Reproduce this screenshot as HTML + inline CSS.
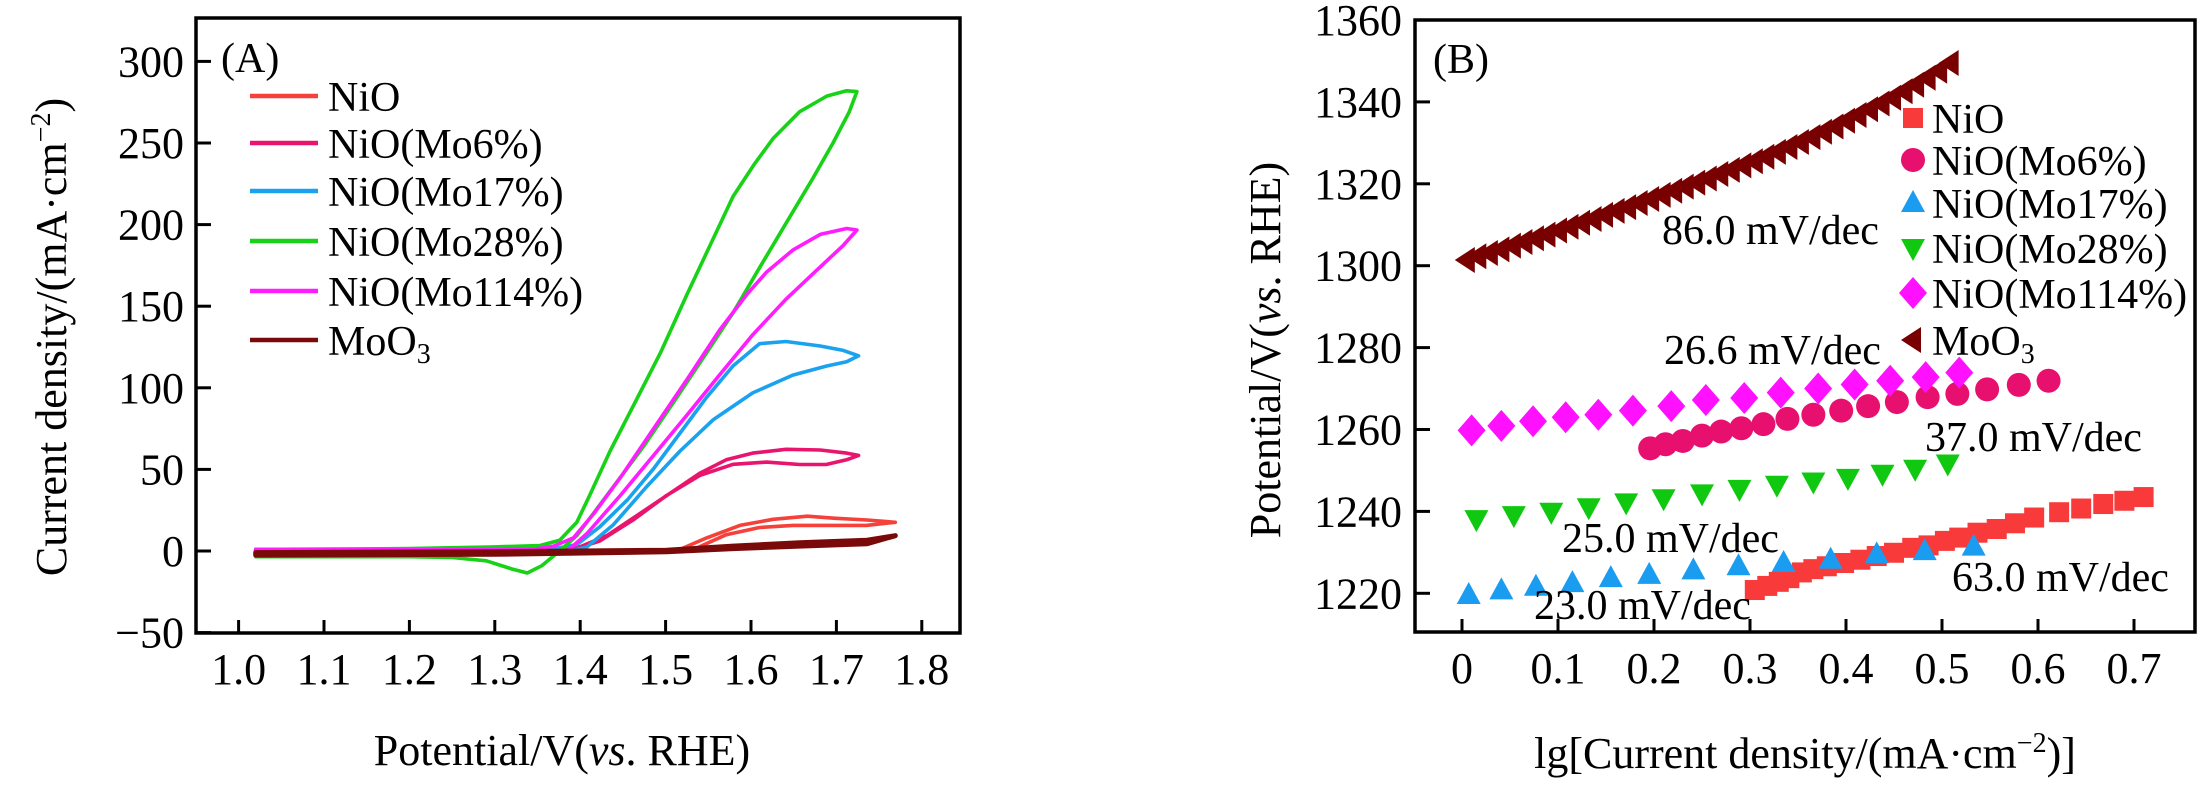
<!DOCTYPE html>
<html><head><meta charset="utf-8"><style>
html,body{margin:0;padding:0;background:#fff;}
svg{display:block;font-family:"Liberation Serif","DejaVu Serif",serif;}
svg text{font-family:"Liberation Serif","DejaVu Serif",serif;}
</style></head><body>
<svg id="fig" width="2205" height="787" viewBox="0 0 2205 787" xmlns="http://www.w3.org/2000/svg" font-family="Liberation Serif, serif">
<rect x="0" y="0" width="2205" height="787" fill="#fff"/>
<g id="left"></g>
<g id="right"></g>
</svg>
<script>
// ---------- Left chart data (CV loops) ----------
const cvXTicks = [1.0,1.1,1.2,1.3,1.4,1.5,1.6,1.7,1.8];
const cvXTickLabels = ["1.0","1.1","1.2","1.3","1.4","1.5","1.6","1.7","1.8"];
const cvYTicks = [300,250,200,150,100,50,0,-50];
const cvYTickLabels = ["300","250","200","150","100","50","0","\u221250"];
const cvNames = ["NiO","NiO(Mo6%)","NiO(Mo17%)","NiO(Mo28%)","NiO(Mo114%)","MoO3"];
const cvColors = ["#f6403a","#e8146e","#1ba2ee","#17d217","#ff1cff","#7a0a0a"];

const nioV = [1.02,1.3,1.45,1.486,1.517,1.548,1.587,1.626,1.666,1.697,1.736,1.769,1.735,1.696,1.649,1.61,1.571,1.533,1.5,1.45,1.3,1.02];
const nioJ = [-1,-0.5,0,-0.5,1,8,15.7,19.4,21.3,20.1,19,17.6,15.7,15.7,15.7,14.4,10,1,0,-0.5,-1,-1.5];

const mo6V = [1.02,1.3,1.38,1.423,1.462,1.501,1.54,1.579,1.618,1.657,1.688,1.712,1.726,1.712,1.681,1.641,1.602,1.571,1.54,1.509,1.47,1.431,1.4,1.365,1.2,1.02];
const mo6J = [-2,-2,-1,6.1,19,34,46.3,53.1,54.5,53,53,55.9,58.6,60,61.9,62.3,60,55.9,47.7,36.7,23,9.4,2.6,0.5,0.5,0.5];

const mo17V = [1.02,1.3,1.38,1.408,1.439,1.478,1.517,1.556,1.602,1.649,1.688,1.712,1.726,1.708,1.681,1.641,1.61,1.579,1.548,1.517,1.486,1.455,1.423,1.396,1.365,1.2,1.02];
const mo17J = [-2,-2,-1,2.5,16.2,39.5,61.3,80.5,96.9,107.8,113.3,116,119.6,122.9,125.6,128.4,127,113.4,94.2,72.3,50.4,31.2,14.8,3.9,1,1,1];

const mo28V = [1.02,1.2,1.25,1.29,1.32,1.338,1.355,1.372,1.396,1.435,1.474,1.513,1.548,1.579,1.61,1.641,1.672,1.696,1.715,1.724,1.712,1.689,1.657,1.626,1.603,1.579,1.552,1.525,1.494,1.462,1.435,1.411,1.396,1.376,1.353,1.3,1.2,1.02];
const mo28J = [-3.5,-3.5,-4,-6,-11,-13.5,-9,-1.6,9.4,36.7,64,94,121.5,146,173.5,200.8,228,250,269,281.5,282,278.8,269.2,252.8,236.4,217.3,187.2,157.1,121.5,88.7,61.3,34,17.6,6.6,3.4,2.5,1.5,1];

const mo114V = [1.02,1.3,1.384,1.408,1.447,1.486,1.525,1.563,1.602,1.641,1.68,1.708,1.724,1.712,1.681,1.649,1.618,1.595,1.563,1.525,1.486,1.447,1.416,1.392,1.369,1.345,1.2,1.02];
const mo114J = [-2,-2,-0.5,10.7,34,58.6,83.2,107.8,132.5,154.3,173.5,187.2,196.7,197.6,194,184.4,170.8,157.1,135.2,105,75,44.9,23,8,3,1,1,1];

const moo3V = [1.02,1.3,1.501,1.579,1.657,1.736,1.769,1.736,1.657,1.579,1.501,1.3,1.02];
const moo3J = [-2.5,-2,-0.5,1.5,3,4.5,9.4,6.6,5,3,0.5,-0.5,-1];

const cvV = [nioV,mo6V,mo17V,mo28V,mo114V,moo3V];
const cvJ = [nioJ,mo6J,mo17J,mo28J,mo114J,moo3J];

// ---------- Right chart data (Tafel) ----------
const tfXTicks = [0,0.1,0.2,0.3,0.4,0.5,0.6,0.7];
const tfXTickLabels = ["0","0.1","0.2","0.3","0.4","0.5","0.6","0.7"];
const tfYTicks = [1220,1240,1260,1280,1300,1320,1340,1360];
const tfYTickLabels = ["1220","1240","1260","1280","1300","1320","1340","1360"];
const tfNames = ["NiO","NiO(Mo6%)","NiO(Mo17%)","NiO(Mo28%)","NiO(Mo114%)","MoO3"];
const tfColors = ["#f83a3a","#e8106e","#1a9cf0","#10c810","#ff10ff","#780000"];
const tfShapes = ["square","circle","up","down","diamond","left"];

const nioLg = [0.305,0.318,0.33,0.341,0.354,0.366,0.38,0.398,0.415,0.432,0.45,0.469,0.486,0.503,0.518,0.537,0.557,0.576,0.596,0.622,0.645,0.668,0.69,0.71];
const nioP = [1220.8,1221.8,1222.8,1223.7,1225.1,1225.9,1226.6,1227.4,1228.2,1229.1,1229.9,1231.1,1231.7,1232.8,1233.6,1234.8,1235.7,1237.1,1238.5,1239.8,1240.7,1241.8,1242.6,1243.5];
const mo6Lg = [0.196,0.212,0.23,0.25,0.27,0.291,0.314,0.339,0.366,0.395,0.423,0.453,0.485,0.516,0.547,0.58,0.611];
const mo6P = [1255.4,1256.4,1257.2,1258.5,1259.5,1260.3,1261.3,1262.6,1263.6,1264.6,1265.7,1266.7,1267.9,1268.7,1269.8,1270.9,1271.9];
const mo17Lg = [0.007,0.041,0.077,0.115,0.155,0.195,0.241,0.288,0.335,0.384,0.432,0.482,0.533];
const mo17P = [1219.6,1220.7,1221.6,1222.5,1223.7,1224.5,1225.6,1226.6,1227.4,1228.2,1229.5,1230.3,1231.4];
const mo28Lg = [0.015,0.054,0.093,0.132,0.171,0.21,0.25,0.289,0.328,0.366,0.402,0.438,0.472,0.506];
const mo28P = [1238.1,1239.1,1239.9,1241,1242.2,1243.2,1244.4,1245.5,1246.5,1247.3,1248.2,1249.2,1250.4,1251.7];
const mo114Lg = [0.01,0.041,0.074,0.108,0.142,0.178,0.218,0.254,0.294,0.332,0.371,0.409,0.446,0.483,0.518];
const mo114P = [1259.8,1260.9,1262,1263,1263.6,1264.6,1265.7,1267.2,1267.7,1269,1270,1271,1271.9,1272.8,1273.9];
const moo3Lg = [0.005,0.017,0.029,0.041,0.053,0.065,0.077,0.089,0.101,0.113,0.125,0.137,0.149,0.161,0.173,0.185,0.197,0.209,0.221,0.233,0.245,0.257,0.269,0.281,0.293,0.305,0.317,0.329,0.341,0.353,0.365,0.377,0.389,0.401,0.413,0.425,0.437,0.449,0.461,0.473,0.485,0.497,0.509];
const moo3P = [1301.4,1302.3,1303.1,1304.0,1304.9,1305.8,1306.7,1307.6,1308.6,1309.5,1310.5,1311.4,1312.4,1313.4,1314.3,1315.3,1316.3,1317.3,1318.3,1319.3,1320.3,1321.3,1322.4,1323.4,1324.5,1325.5,1326.6,1327.8,1329.0,1330.2,1331.4,1332.7,1334.0,1335.4,1336.8,1338.2,1339.6,1341.0,1342.6,1344.2,1345.9,1347.6,1349.5];
const tfLg = [nioLg,mo6Lg,mo17Lg,mo28Lg,mo114Lg,moo3Lg];
const tfP = [nioP,mo6P,mo17P,mo28P,mo114P,moo3P];

const slopeTexts = ["86.0 mV/dec","26.6 mV/dec","37.0 mV/dec","25.0 mV/dec","23.0 mV/dec","63.0 mV/dec"];

// ---------- helpers ----------
const NS = "http://www.w3.org/2000/svg";
const SERIF = '"Liberation Serif", "DejaVu Serif", serif';
function mk(tag, attrs, parent){
  const e = document.createElementNS(NS, tag);
  for (const k in attrs) e.setAttribute(k, attrs[k]);
  parent.appendChild(e);
  return e;
}
function txt(s, attrs, parent){
  const t = mk("text", attrs, parent);
  t.setAttribute("font-family", SERIF);
  t.style.fontFamily = SERIF;
  t.textContent = s;
  return t;
}
function sub(t, main, subTxt){
  t.textContent = main;
  const ts = document.createElementNS(NS, "tspan");
  ts.setAttribute("font-size", "28");
  ts.setAttribute("dy", "8");
  ts.textContent = subTxt;
  t.appendChild(ts);
}

// ---------- Left chart ----------
const L = document.getElementById("left");
const xL = v => 238.6 + (v - 1.0) * 854;
const yL = j => 551 - j * 1.632;
const LB = {l:196, t:18, r:960, b:633};

for (let s = 0; s < cvV.length; s++) {
  let d = "";
  for (let i = 0; i < cvV[s].length; i++) d += (i ? "L" : "M") + xL(cvV[s][i]).toFixed(1) + "," + yL(cvJ[s][i]).toFixed(1);
  d += "Z";
  const p = mk("path", {d:d, fill:"none", stroke:cvColors[s], "stroke-width": s===5 ? 5 : 3.6, "stroke-linejoin":"round"}, L);
  
  
}
const lframe = mk("rect", {x:LB.l, y:LB.t, width:LB.r-LB.l, height:LB.b-LB.t, fill:"none", stroke:"#000", "stroke-width":3.5}, L);



for (let i = 0; i < cvXTicks.length; i++) {
  const x = xL(cvXTicks[i]);
  mk("line", {x1:x, y1:LB.b, x2:x, y2:LB.b-13, stroke:"#000", "stroke-width":3}, L);
  const t = txt(cvXTickLabels[i], {x:x, y:684, "font-size":44, "text-anchor":"middle"}, L);
  
  
}
for (let i = 0; i < cvYTicks.length; i++) {
  const y = yL(cvYTicks[i]);
  mk("line", {x1:LB.l, y1:y, x2:LB.l+15, y2:y, stroke:"#000", "stroke-width":3}, L);
  const t = txt(cvYTickLabels[i], {x:184, y:y+15, "font-size":44, "text-anchor":"end"}, L);
  
  
}
const lxt = txt("", {x:562, y:765, "font-size":44, "text-anchor":"middle"}, L);
lxt.innerHTML = 'Potential/V(<tspan font-style="italic">vs</tspan>. RHE)';


const lyt = txt("", {x:0, y:0, "font-size":44, "text-anchor":"middle", transform:"translate(66,337) rotate(-90)"}, L);
lyt.innerHTML = 'Current density/(mA·cm<tspan dy="-16" font-size="28">−2</tspan><tspan dy="16">)</tspan>';


const la = txt("(A)", {x:221, y:72, "font-size":42}, L);



const legRowsL = [96,143,191,241,291,340];
for (let s = 0; s < cvNames.length; s++) {
  const y = legRowsL[s];
  const ln = mk("line", {x1:250, y1:y, x2:318, y2:y, stroke:cvColors[s], "stroke-width":4.5}, L);
  
  
  const t = txt("", {x:328, y:y+15, "font-size":42}, L);
  if (s === 5) sub(t, "MoO", "3"); else t.textContent = cvNames[s];
  
  
}

// ---------- Right chart ----------
const R = document.getElementById("right");
const xR = l => 1462 + l * 960;
const yR = p => 20 + (1360 - p) * 4.095;
const RB = {l:1415, t:20, r:2195, b:632};

function marker(shape, cx, cy, color, parent){
  let e;
  if (shape === "square") e = mk("rect", {x:cx-10, y:cy-10, width:20, height:20, fill:color}, parent);
  else if (shape === "circle") e = mk("circle", {cx:cx, cy:cy, r:12, fill:color}, parent);
  else if (shape === "up") e = mk("polygon", {points:`${cx},${cy-13} ${cx+12},${cy+9} ${cx-12},${cy+9}`, fill:color}, parent);
  else if (shape === "down") e = mk("polygon", {points:`${cx-12},${cy-9} ${cx+12},${cy-9} ${cx},${cy+13}`, fill:color}, parent);
  else if (shape === "diamond") e = mk("polygon", {points:`${cx},${cy-16} ${cx+14},${cy} ${cx},${cy+16} ${cx-14},${cy}`, fill:color}, parent);
  else e = mk("polygon", {points:`${cx-12},${cy} ${cx+8},${cy-13} ${cx+8},${cy+13}`, fill:color}, parent);
  return e;
}
for (let s = 0; s < tfLg.length; s++) {
  for (let i = 0; i < tfLg[s].length; i++) {
    const m = marker(tfShapes[s], xR(tfLg[s][i]), yR(tfP[s][i]), tfColors[s], R);
    
    
  }
}
const rframe = mk("rect", {x:RB.l, y:RB.t, width:RB.r-RB.l, height:RB.b-RB.t, fill:"none", stroke:"#000", "stroke-width":3.5}, R);


for (let i = 0; i < tfXTicks.length; i++) {
  const x = xR(tfXTicks[i]);
  mk("line", {x1:x, y1:RB.b, x2:x, y2:RB.b-13, stroke:"#000", "stroke-width":3}, R);
  const t = txt(tfXTickLabels[i], {x:x, y:683, "font-size":44, "text-anchor":"middle"}, R);
  
  
}
for (let i = 0; i < tfYTicks.length; i++) {
  const y = yR(tfYTicks[i]);
  mk("line", {x1:RB.l, y1:y, x2:RB.l+15, y2:y, stroke:"#000", "stroke-width":3}, R);
  const t = txt(tfYTickLabels[i], {x:1402, y:y+15, "font-size":44, "text-anchor":"end"}, R);
  
  
}
const rxt = txt("", {x:1805, y:768, "font-size":44, "text-anchor":"middle"}, R);
rxt.innerHTML = 'lg[Current density/(mA·cm<tspan dy="-16" font-size="28">−2</tspan><tspan dy="16">)]</tspan>';


const ryt = txt("", {x:0, y:0, "font-size":44, "text-anchor":"middle", transform:"translate(1280,350) rotate(-90)"}, R);
ryt.innerHTML = 'Potential/V(<tspan font-style="italic">vs</tspan>. RHE)';


const rb = txt("(B)", {x:1433, y:73, "font-size":42}, R);



const slopePos = [[1662,244],[1664,364],[1925,451],[1562,552],[1534,619],[1952,591]];
for (let i = 0; i < slopeTexts.length; i++) {
  const t = txt(slopeTexts[i], {x:slopePos[i][0], y:slopePos[i][1], "font-size":42}, R);
  
  
}
const legRowsR = [118,160,203,248,293,340];
for (let s = 0; s < tfNames.length; s++) {
  const y = legRowsR[s];
  const m = marker(tfShapes[s], 1913, y, tfColors[s], R);
  
  
  const t = txt("", {x:1932, y:y+15, "font-size":42}, R);
  if (s === 5) sub(t, "MoO", "3"); else t.textContent = tfNames[s];
  
  
}
</script>
</body></html>
